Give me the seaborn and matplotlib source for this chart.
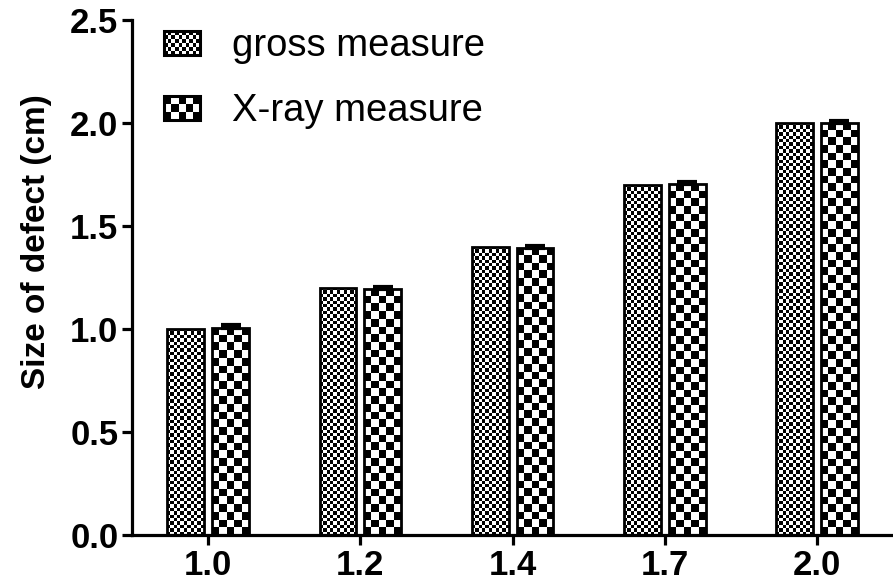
import numpy as np
import pandas as pd
import matplotlib
matplotlib.use("Agg")
import matplotlib.pyplot as plt
import seaborn as sns
from matplotlib.patches import Rectangle
from matplotlib.legend_handler import HandlerPatch

# ---- data ----
doses = ["1.0", "1.2", "1.4", "1.7", "2.0"]
series = ["gross measure", "X-ray measure"]
gross_vals = [1.0, 1.2, 1.4, 1.7, 2.0]
xray_vals = [1.005, 1.195, 1.395, 1.705, 2.0]
gross_err = [0.0, 0.0, 0.0, 0.0, 0.0]
xray_err = [0.015, 0.01, 0.01, 0.01, 0.01]
y_ticks = [0.0, 0.5, 1.0, 1.5, 2.0, 2.5]

sns.set_theme(style="ticks")
plt.rcParams["font.family"] = ["Liberation Sans", "DejaVu Sans"]
plt.rcParams["text.color"] = "black"
plt.rcParams["axes.labelcolor"] = "black"
plt.rcParams["xtick.color"] = "black"
plt.rcParams["ytick.color"] = "black"
plt.rcParams["axes.edgecolor"] = "black"

df = pd.DataFrame({
    "dose": doses * 2,
    "measure": [series[0]] * len(doses) + [series[1]] * len(doses),
    "size": gross_vals + xray_vals,
})

fig = plt.figure(figsize=(8.93, 5.86), dpi=100)
ax = fig.add_axes([0.148, 0.087, 0.852, 0.879])

sns.barplot(data=df, x="dose", y="size", hue="measure", order=doses,
            hue_order=series, palette=["white", "white"], width=0.59,
            gap=0.18, errorbar=None, edgecolor="black", linewidth=2.0,
            legend=False, ax=ax)

ax.set_xlim(-0.5, 4.5)
ax.set_ylim(0, 2.5)
ax.set_yticks(y_ticks)
ax.set_yticklabels([f"{v:.1f}" for v in y_ticks])

fig.canvas.draw()
cell_px = [3.4, 7.7]
bars = list(ax.patches)
n = len(doses)
to_px = ax.transData
for i, p in enumerate(bars):
    s = i // n
    x0, y0 = p.get_x(), p.get_y()
    w, h = p.get_width(), p.get_height()
    (px0, py0) = to_px.transform((x0, y0))
    (px1, py1) = to_px.transform((x0 + w, y0 + h))
    nx = max(1, int(round((px1 - px0) / cell_px[s])))
    ny = max(1, int(round((py1 - py0) / cell_px[s])))
    yy, xx = np.indices((ny, nx))
    board = ((xx + yy) % 2).astype(float)
    im = ax.imshow(board, cmap="gray", extent=[x0, x0 + w, y0, y0 + h],
                   origin="lower", interpolation="nearest", aspect="auto",
                   zorder=p.get_zorder() - 0.1)
    im.set_clip_path(p)
    p.set_facecolor("none")
    p.set_zorder(p.get_zorder() + 0.5)

# error bars (upward)
errs = [gross_err, xray_err]
vals = [gross_vals, xray_vals]
for s in range(2):
    xs = [bars[s * n + k].get_x() + bars[s * n + k].get_width() / 2 for k in range(n)]
    if max(errs[s]) > 0:
        ax.errorbar(xs, vals[s], yerr=[np.zeros(n), errs[s]], fmt="none",
                    ecolor="black", elinewidth=2.5, capsize=7.5, capthick=3,
                    zorder=5)

ax.set_xlim(-0.5, 4.5)
ax.set_ylim(0, 2.5)

sns.despine(ax=ax)
for sp in ["left", "bottom"]:
    ax.spines[sp].set_linewidth(2.3)
ax.tick_params(axis="both", direction="out", length=7, width=2.3,
               labelsize=25, pad=3)
for lab in ax.get_xticklabels() + ax.get_yticklabels():
    lab.set_fontweight("bold")
ax.set_xlabel("")
ax.set_ylabel("Size of defect (cm)", fontsize=24, fontweight="bold")
ax.yaxis.set_label_coords(-0.106, 0.569)


class CheckerHandler(HandlerPatch):
    def __init__(self, ncells, **kw):
        super().__init__(**kw)
        self.ncells = ncells

    def create_artists(self, legend, orig_handle, xdescent, ydescent,
                       width, height, fontsize, trans):
        nx, ny = self.ncells
        cw, ch = width / nx, height / ny
        arts = []
        for ix in range(nx):
            for iy in range(ny):
                if (ix + iy) % 2 == 0:
                    arts.append(Rectangle((-xdescent + ix * cw, -ydescent + iy * ch),
                                          cw, ch, facecolor="black",
                                          edgecolor="none", transform=trans))
        arts.append(Rectangle((-xdescent, -ydescent), width, height,
                              facecolor="none", edgecolor="black",
                              linewidth=2.2, transform=trans))
        return arts


h1 = Rectangle((0, 0), 1, 1, facecolor="white", edgecolor="black")
h2 = Rectangle((0, 0), 1, 1, facecolor="white", edgecolor="black")
leg = ax.legend([h1, h2], series, loc="upper left",
                bbox_to_anchor=(0.184, 0.952), bbox_transform=fig.transFigure,
                frameon=False, fontsize=27.5, handlelength=0.93,
                handleheight=0.6, handletextpad=0.85, labelspacing=0.76,
                borderaxespad=0, borderpad=0,
                handler_map={h1: CheckerHandler((10, 6)),
                             h2: CheckerHandler((5, 3))})

fig.savefig("out.png", dpi=100)
